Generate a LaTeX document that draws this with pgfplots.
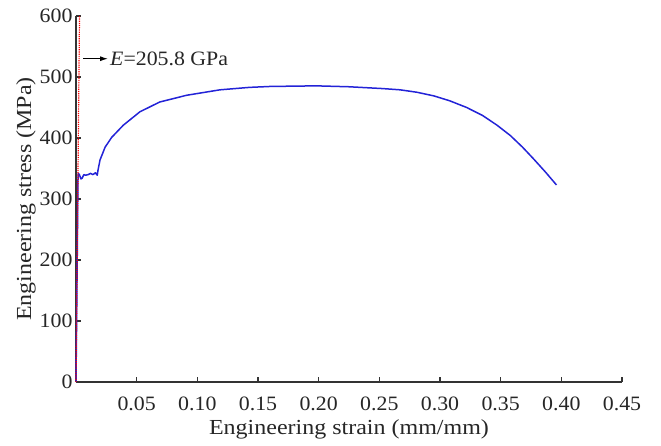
\documentclass[border=0pt]{standalone}
\usepackage{pgfplots}
\pgfplotsset{compat=1.18}
\usetikzlibrary{arrows.meta}
\usepackage{fontspec}
\setmainfont[FakeStretch=1.07]{Liberation Serif}
\newfontfamily\lblfont[FakeStretch=1.12]{Liberation Serif}
\definecolor{curveblue}{RGB}{35,35,215}
\begin{document}
\begin{tikzpicture}
\begin{axis}[
  name=ax,
  scale only axis,
  width=546bp, height=366bp,
  xmin=0, xmax=0.45, ymin=0, ymax=600,
  axis lines=left,
  axis line style={-, line width=1.1bp, black!80},
  tick style={line width=1.1bp, black!80},
  tick align=inside,
  major tick length=5bp,
  xtick={0.05,0.10,0.15,0.20,0.25,0.30,0.35,0.40,0.45},
  ytick={0,100,200,300,400,500,600},
  xticklabels={0.05,0.10,0.15,0.20,0.25,0.30,0.35,0.40,0.45},
  /pgf/number format/assume math mode=true,
  ticklabel style={font=\fontsize{20.5}{23}\selectfont, text=black!85},
  xticklabel style={yshift=-11bp},
  xlabel={Engineering strain (mm/mm)},
  ylabel={Engineering stress (MPa)},
  xlabel style={font=\lblfont\fontsize{21.5}{24}\selectfont, text=black!85,
    at={(axis description cs:0.5,0)}, anchor=base, yshift=-52bp},
  ylabel style={font=\lblfont\fontsize{21.5}{24}\selectfont, text=black!85,
    at={(axis description cs:-0.0824,0.5)}, anchor=base},
  clip=false,
]
\addplot[curveblue, line width=1.5bp, line join=round] coordinates {
(0,0) (0.0010,200) (0.0016,330) (0.0019,342) (0.0028,340) (0.0040,333) (0.0050,334)
(0.0065,340) (0.0080,339) (0.0100,340) (0.0120,342) (0.0140,340) (0.0160,343)
(0.0175,339) (0.0182,348) (0.0198,364) (0.0240,385) (0.0294,401) (0.0390,421)
(0.0527,443) (0.0690,459) (0.0910,470) (0.1187,479) (0.1430,483) (0.1600,484.5)
(0.1980,485.5) (0.2250,484) (0.2530,481) (0.2670,479) (0.2810,475) (0.2950,469)
(0.3080,461) (0.3220,450) (0.3350,437) (0.3470,421) (0.3580,404) (0.3680,385)
(0.3770,366) (0.3870,344) (0.3960,323)
};
\addplot[red, densely dotted, line width=1.2bp] coordinates {(0,0) (0.0029,600)};
\draw[-{Latex[length=8bp,width=5bp]}, line width=1.1bp] (axis cs:0.0058,530) -- (axis cs:0.0264,530);
\node[anchor=west, font=\fontsize{20.5}{23}\selectfont, inner sep=0pt, text=black!85] at (axis cs:0.0280,530) {\textit{E}=205.8 GPa};
\end{axis}
\pgfresetboundingbox
\path[use as bounding box] ([shift={(-76bp,-64bp)}]ax.south west) rectangle ++(661bp,446bp);
\end{tikzpicture}
\end{document}
